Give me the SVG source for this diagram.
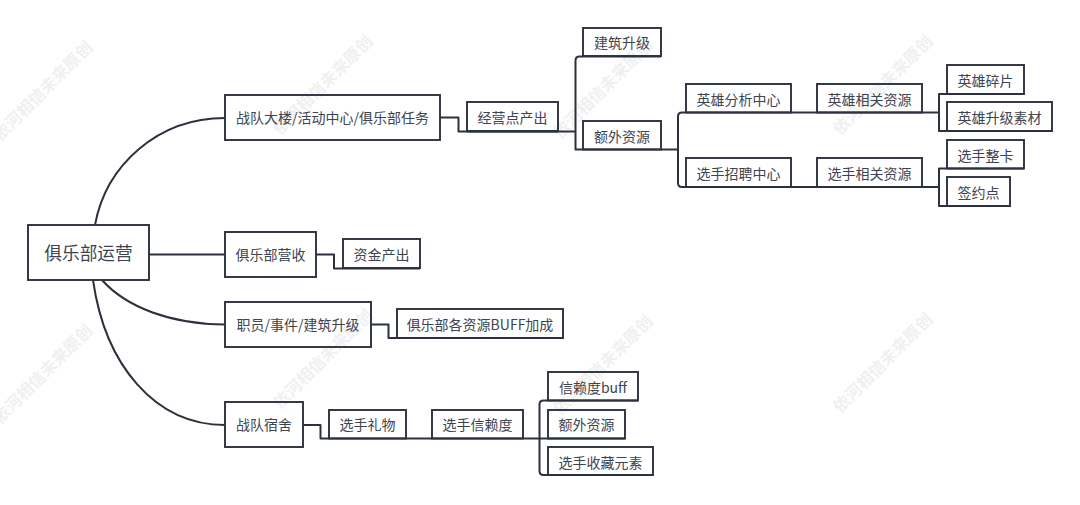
<svg xmlns="http://www.w3.org/2000/svg" width="1080" height="505" viewBox="0 0 1080 505">
<style>
.bg{fill:#fff}
.wm{font:700 16.5px "Noto Sans CJK SC","Noto Sans",sans-serif;fill:#f0f0f0;text-anchor:middle}
.box{fill:none;stroke:#2b313d;stroke-width:1.9}
.t{font:14px "Noto Sans CJK SC","Noto Sans",sans-serif;fill:#3e4450;text-anchor:middle;dominant-baseline:central}
.root{font-size:17.7px}
.c{fill:none;stroke:#2b313d;stroke-width:2;stroke-linejoin:round}
</style>
<rect class="bg" width="1080" height="505"/>
<g id="watermarks">
<text class="wm" transform="translate(47 95) rotate(-45)">依河相信未来原创</text>
<text class="wm" transform="translate(327 89) rotate(-45)">依河相信未来原创</text>
<text class="wm" transform="translate(607 93) rotate(-45)">依河相信未来原创</text>
<text class="wm" transform="translate(887 89) rotate(-45)">依河相信未来原创</text>
<text class="wm" transform="translate(47 378) rotate(-45)">依河相信未来原创</text>
<text class="wm" transform="translate(327 363) rotate(-45)">依河相信未来原创</text>
<text class="wm" transform="translate(607 369) rotate(-45)">依河相信未来原创</text>
<text class="wm" transform="translate(887 367) rotate(-45)">依河相信未来原创</text>
</g>
<g id="connectors">
<path class="c" d="M95 225C106 165 158 118 225 118"/>
<path class="c" d="M149 254.500H225"/>
<path class="c" d="M102 280C126 307 170 324 225 324.500"/>
<path class="c" d="M93 280C105 365 155 425 225 425"/>
<path class="c" d="M440 117.500H458.500V131.500H558"/>
<path class="c" d="M558 131.500H575.500"/>
<path class="c" d="M583 56.500H579.500Q575.500 56.500 575.500 60.500V149.500H583H661"/>
<path class="c" d="M661 149.500H678"/>
<path class="c" d="M686 112.500H682Q678 112.500 678 116.500V183Q678 187 682 187H791"/>
<path class="c" d="M686 112.500H791"/>
<path class="c" d="M791 112.500H922"/>
<path class="c" d="M791 187H922"/>
<path class="c" d="M922 112.500H939"/>
<path class="c" d="M1024 94H939V131H1052"/>
<path class="c" d="M922 187H939"/>
<path class="c" d="M1024 168.500H939V206H1010"/>
<path class="c" d="M316 254.500H334V268.500H420"/>
<path class="c" d="M371 324.500H388.500V338H563"/>
<path class="c" d="M303 425H320.500V438.500H625"/>
<path class="c" d="M638 400.500H543.500Q539.500 400.500 539.500 404.500V471Q539.500 475 543.500 475H653"/>
<path class="c" d="M558 131.500H467"/>
<path class="c" d="M583 56.500H661"/>
</g>
<g id="n0"><rect class="box" x="28" y="225" width="121" height="55"/><text class="t root" x="88.500" y="252">俱乐部运营</text></g>
<g id="n1"><rect class="box" x="225" y="95" width="215" height="45"/><text class="t" x="332.500" y="117">战队大楼/活动中心/俱乐部任务</text></g>
<g id="n2"><rect class="box" x="225" y="232" width="91" height="45"/><text class="t" x="270.500" y="254">俱乐部营收</text></g>
<g id="n3"><rect class="box" x="225" y="302" width="146" height="45"/><text class="t" x="298" y="324">职员/事件/建筑升级</text></g>
<g id="n4"><rect class="box" x="225" y="402" width="78" height="45"/><text class="t" x="264" y="424">战队宿舍</text></g>
<g id="n5"><rect class="box" x="467" y="102" width="91" height="29"/><text class="t" x="512.500" y="117">经营点产出</text></g>
<g id="n6"><rect class="box" x="583" y="28" width="78" height="28"/><text class="t" x="622" y="42">建筑升级</text></g>
<g id="n7"><rect class="box" x="583" y="121" width="78" height="28.500"/><text class="t" x="622" y="136">额外资源</text></g>
<g id="n8"><rect class="box" x="686" y="84" width="105" height="28.500"/><text class="t" x="738.500" y="98.500">英雄分析中心</text></g>
<g id="n9"><rect class="box" x="686" y="158" width="105" height="29"/><text class="t" x="738.500" y="173">选手招聘中心</text></g>
<g id="n10"><rect class="box" x="817" y="84" width="105" height="28.500"/><text class="t" x="869.500" y="98.500">英雄相关资源</text></g>
<g id="n11"><rect class="box" x="817" y="158" width="105" height="29"/><text class="t" x="869.500" y="173">选手相关资源</text></g>
<g id="n12"><rect class="box" x="947" y="65" width="77" height="29"/><text class="t" x="985.500" y="80">英雄碎片</text></g>
<g id="n13"><rect class="box" x="947" y="102" width="105" height="29"/><text class="t" x="999.500" y="117">英雄升级素材</text></g>
<g id="n14"><rect class="box" x="947" y="140" width="77" height="28.500"/><text class="t" x="985.500" y="155">选手整卡</text></g>
<g id="n15"><rect class="box" x="947" y="177" width="63" height="29"/><text class="t" x="978.500" y="192">签约点</text></g>
<g id="n16"><rect class="box" x="343" y="239" width="77" height="29"/><text class="t" x="381.500" y="254">资金产出</text></g>
<g id="n17"><rect class="box" x="397" y="309" width="166" height="29"/><text class="t" x="480" y="324">俱乐部各资源BUFF加成</text></g>
<g id="n18"><rect class="box" x="329" y="410" width="77" height="28.500"/><text class="t" x="367.500" y="424">选手礼物</text></g>
<g id="n19"><rect class="box" x="432" y="410" width="91" height="28.500"/><text class="t" x="477.500" y="424">选手信赖度</text></g>
<g id="n20"><rect class="box" x="548" y="372" width="90" height="28.500"/><text class="t" x="593" y="387">信赖度buff</text></g>
<g id="n21"><rect class="box" x="548" y="410" width="77" height="28.500"/><text class="t" x="586.500" y="424">额外资源</text></g>
<g id="n22"><rect class="box" x="548" y="447" width="105" height="28"/><text class="t" x="600.500" y="462">选手收藏元素</text></g>
</svg>
